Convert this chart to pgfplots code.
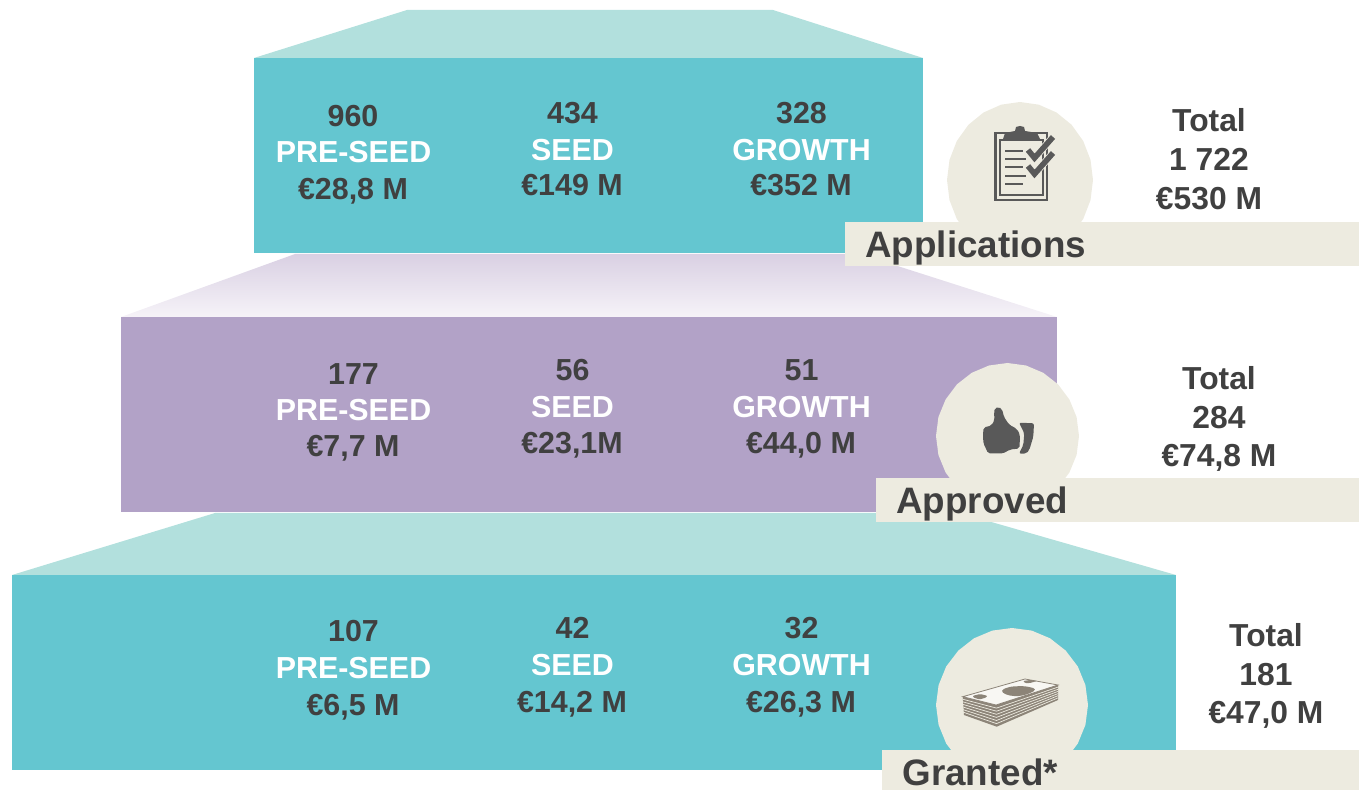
\documentclass[border=0pt]{standalone}
\usepackage{fontspec}
\setmainfont{Liberation Sans}
\usepackage{pgfplots}
\pgfplotsset{compat=1.18}
\definecolor{teal1}{HTML}{64C6D0}
\definecolor{teal2}{HTML}{B2E0DD}
\definecolor{purp}{HTML}{B2A2C7}
\definecolor{purptop}{HTML}{D9D0E3}
\definecolor{purpbot}{HTML}{F6F3F8}
\definecolor{cream}{HTML}{EDEBE0}
\definecolor{ink}{HTML}{404040}
\definecolor{icon}{HTML}{595959}
\definecolor{money}{HTML}{8C8478}
\begin{document}
\begin{tikzpicture}[
  num/.style={anchor=base, inner sep=0pt, text=ink, font=\fontsize{15.2}{18}\selectfont\bfseries},
  tot/.style={anchor=base, inner sep=0pt, text=ink, font=\fontsize{15.9}{18}\selectfont\bfseries},
  cat/.style={anchor=base, inner sep=0pt, text=white, font=\fontsize{15.2}{18}\selectfont\bfseries},
  lab/.style={anchor=base west, inner sep=0pt, text=ink, font=\fontsize{18.4}{22}\selectfont\bfseries},
]
\begin{axis}[
  scale only axis,
  width=679.5pt, height=395pt,
  xmin=0, xmax=1359, ymin=0, ymax=790,
  y dir=reverse,
  hide axis,
]
\path (rel axis cs:0,0) rectangle (rel axis cs:1,1);

% top block
\addplot[fill=teal2, draw=none] coordinates {(407,10) (773,10) (923,58) (254,58)} --cycle;
\addplot[fill=teal1, draw=none] coordinates {(254,58) (923,58) (923,253) (254,253)} --cycle;
% middle block
\addplot[draw=none, top color=purptop, bottom color=purpbot] coordinates {(295,254) (860,254) (1057,317) (121,317)} --cycle;
\addplot[fill=purp, draw=none] coordinates {(121,317) (1057,317) (1057,512) (121,512)} --cycle;
% bottom block
\addplot[fill=teal2, draw=none] coordinates {(215,513) (960,513) (1176,575) (12,575)} --cycle;
\addplot[fill=teal1, draw=none] coordinates {(12,575) (1176,575) (1176,770) (12,770)} --cycle;

% circles (slightly taller than wide in the original)
\addplot[fill=cream, draw=none] coordinates {(1093,180)(1090.5,200.2)(1083.2,219)(1071.6,235.2)(1056.5,247.5)(1038.9,255.3)(1020,258)(1001.1,255.3)(983.5,247.5)(968.4,235.2)(956.8,219)(949.5,200.2)(947,180)(949.5,159.8)(956.8,141)(968.4,124.8)(983.5,112.5)(1001.1,104.7)(1020,102)(1038.9,104.7)(1056.5,112.5)(1071.6,124.8)(1083.2,141)(1090.5,159.8)} --cycle;
\addplot[fill=cream, draw=none] coordinates {(1079,436)(1076.6,454.9)(1069.4,472.5)(1058.1,487.6)(1043.25,499.2)(1026,506.5)(1007.5,509)(989,506.5)(971.75,499.2)(956.9,487.6)(945.6,472.5)(938.4,454.9)(936,436)(938.4,417.1)(945.6,399.5)(956.9,384.4)(971.75,372.8)(989,365.5)(1007.5,363)(1026,365.5)(1043.25,372.8)(1058.1,384.4)(1069.4,399.5)(1076.6,417.1)} --cycle;
\addplot[fill=cream, draw=none] coordinates {(1088,705)(1085.4,724.9)(1077.8,743.5)(1065.7,759.4)(1050,771.7)(1031.7,779.4)(1012,782)(992.3,779.4)(974,771.7)(958.3,759.4)(946.2,743.5)(938.6,724.9)(936,705)(938.6,685.1)(946.2,666.5)(958.3,650.6)(974,638.3)(992.3,630.6)(1012,628)(1031.7,630.6)(1050,638.3)(1065.7,650.6)(1077.8,666.5)(1085.4,685.1)} --cycle;

% label bands
\addplot[fill=cream, draw=none] coordinates {(845,222) (1359,222) (1359,266) (845,266)} --cycle;
\addplot[fill=cream, draw=none] coordinates {(876,478) (1359,478) (1359,522) (876,522)} --cycle;
\addplot[fill=cream, draw=none] coordinates {(882,750) (1359,750) (1359,790) (882,790)} --cycle;

% clipboard icon
\addplot[draw=icon, line width=1.4pt] coordinates {(995.5,133) (1047,133) (1047,200) (995.5,200)} --cycle;
\addplot[draw=icon, line width=1pt] coordinates {(1000,140) (1043,140) (1043,195) (1000,195)} --cycle;
\addplot[fill=icon, draw=none] coordinates {(1003,139) (1005,133) (1015,131) (1016,127) (1020,126) (1024,127) (1025,131) (1037,133) (1040,139)} --cycle;
\addplot[draw=icon, line width=1.3pt] coordinates {(1005,151) (1023,151)};
\addplot[draw=icon, line width=1.3pt] coordinates {(1005,159) (1026,159)};
\addplot[draw=icon, line width=1.3pt] coordinates {(1005,167) (1023,167)};
\addplot[draw=icon, line width=1.3pt] coordinates {(1005,176) (1026,176)};
\addplot[draw=icon, line width=1.3pt] coordinates {(1005,184) (1023,184)};
\addplot[draw=cream, line width=3.6pt] coordinates {(1028,150) (1034.5,158) (1053,137)};
\addplot[draw=icon, line width=2.8pt] coordinates {(1028,150) (1034.5,158) (1053,137)};
\addplot[draw=cream, line width=3.6pt] coordinates {(1028,166) (1034.5,174) (1053,153)};
\addplot[draw=icon, line width=2.8pt] coordinates {(1028,166) (1034.5,174) (1053,153)};

% thumb icon
\addplot[fill=icon, draw=none, rounded corners=1pt] coordinates {(994,412) (995,408) (998.5,407) (1002,409) (1004,417) (1009,424.5) (1017,429) (1020,435) (1019.5,448.5) (1010,449.5) (1003,453.5) (988,453.5) (986,448.5) (983.5,444) (983,436) (983.5,427.5) (991.5,425.5) (994.5,420)} --cycle;
\addplot[fill=icon, draw=none, rounded corners=1pt] coordinates {(1019,422.7) (1034,423.3) (1033.3,436.7) (1029.3,450) (1026,453.7) (1019,453.7) (1023.3,445) (1024.3,433.3)} --cycle;

% money icon
\addplot[fill=money, draw=none] coordinates {(962.7,696.7) (996,705) (1058,685) (1058,700) (996.7,726.7) (964,715)} --cycle;
\addplot[draw=cream, line width=0.35pt] coordinates {(963,699.3) (996.5,708.1) (1058,687.1)};
\addplot[draw=cream, line width=0.35pt] coordinates {(963,701.9) (996.5,711.2) (1058,689.3)};
\addplot[draw=cream, line width=0.35pt] coordinates {(963,704.4) (996.5,714.3) (1058,691.4)};
\addplot[draw=cream, line width=0.35pt] coordinates {(963,707) (996.5,717.4) (1058,693.6)};
\addplot[draw=cream, line width=0.35pt] coordinates {(963,709.6) (996.5,720.5) (1058,695.7)};
\addplot[draw=cream, line width=0.35pt] coordinates {(963,712.1) (996.5,723.6) (1058,697.9)};
\addplot[fill=cream!40!white, draw=money, line width=0.4pt] coordinates {(962.7,696.7) (1025,679) (1058,685) (996,705)} --cycle;
\addplot[fill=money, draw=none, rounded corners=2pt] coordinates {(1000,690.5) (1010,686.5) (1025,686) (1037,689) (1030,693.5) (1018,696.5) (1006,695)} --cycle;
\addplot[fill=money, draw=none, rounded corners=1pt] coordinates {(972,696) (980,694) (988,696) (983,699) (976,699)} --cycle;
\addplot[fill=money, draw=none, rounded corners=0.5pt] coordinates {(1023,681) (1030,680) (1037,681) (1030,683) (1025,683)} --cycle;

% applications
\node[num] at (axis cs:353,127) {960};
\node[cat] at (axis cs:353.5,163) {PRE-SEED};
\node[num] at (axis cs:353,200) {€28,8 M};
\node[num] at (axis cs:572.5,124) {434};
\node[cat] at (axis cs:572.5,160.5) {SEED};
\node[num] at (axis cs:572,196) {€149 M};
\node[num] at (axis cs:801.5,124) {328};
\node[cat] at (axis cs:801.5,160.5) {GROWTH};
\node[num] at (axis cs:801,196) {€352 M};
\node[tot] at (axis cs:1209,132) {Total};
\node[tot] at (axis cs:1209,171) {1 722};
\node[tot] at (axis cs:1209,210) {€530 M};
\node[lab] at (axis cs:865,258) {Applications};

% approved
\node[num] at (axis cs:353.5,385) {177};
\node[cat] at (axis cs:353.5,420.5) {PRE-SEED};
\node[num] at (axis cs:353,457) {€7,7 M};
\node[num] at (axis cs:572.5,381) {56};
\node[cat] at (axis cs:572.5,417.5) {SEED};
\node[num] at (axis cs:572,454) {€23,1M};
\node[num] at (axis cs:801.5,381) {51};
\node[cat] at (axis cs:801.5,417.5) {GROWTH};
\node[num] at (axis cs:801,454) {€44,0 M};
\node[tot] at (axis cs:1219,390) {Total};
\node[tot] at (axis cs:1219,429) {284};
\node[tot] at (axis cs:1219,467) {€74,8 M};
\node[lab] at (axis cs:896,514) {Approved};

% granted
\node[num] at (axis cs:353.5,641) {107};
\node[cat] at (axis cs:353.5,678) {PRE-SEED};
\node[num] at (axis cs:353,715) {€6,5 M};
\node[num] at (axis cs:572.5,638) {42};
\node[cat] at (axis cs:572.5,675) {SEED};
\node[num] at (axis cs:572,712) {€14,2 M};
\node[num] at (axis cs:801.5,638) {32};
\node[cat] at (axis cs:801.5,675) {GROWTH};
\node[num] at (axis cs:801,712) {€26,3 M};
\node[tot] at (axis cs:1266,646) {Total};
\node[tot] at (axis cs:1266,685) {181};
\node[tot] at (axis cs:1266,723) {€47,0 M};
\node[lab] at (axis cs:902,785) {Granted*};
\end{axis}
\end{tikzpicture}
\end{document}
